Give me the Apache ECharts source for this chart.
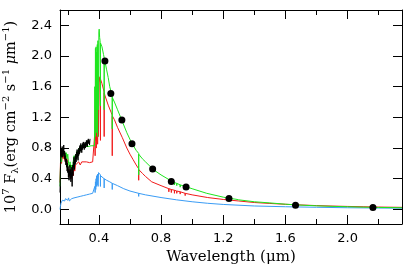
<!DOCTYPE html>
<html>
<head>
<meta charset="utf-8">
<script src="https://cdn.jsdelivr.net/npm/echarts@6/dist/echarts.min.js"></script>
<style>
  html, body { margin: 0; padding: 0; background: #fff; }
  #chart { width: 415px; height: 269px; }
</style>
</head>
<body>
<div id="chart"></div>
<script>
// wavelength (um), 10^7 F_lambda
let greenModel = [
    [0.150,0.30],[0.153,0.55],[0.156,0.70],[0.160,0.62],[0.163,0.78],[0.167,0.72],[0.170,0.80],[0.175,0.70],
    [0.180,0.76],[0.185,0.68],[0.190,0.74],[0.195,0.66],[0.200,0.72],[0.205,0.60],[0.210,0.55],[0.215,0.62],
    [0.220,0.50],[0.225,0.58],[0.230,0.48],[0.235,0.62],[0.240,0.70],[0.245,0.60],[0.250,0.72],[0.255,0.66],
    [0.260,0.76],[0.265,0.70],[0.270,0.80],[0.275,0.74],[0.280,0.82],[0.285,0.76],[0.290,0.84],[0.295,0.80],
    [0.300,0.82],[0.310,0.82],[0.320,0.83],[0.330,0.82],[0.340,0.82],[0.350,0.83],[0.360,0.82],[0.372,0.83],
    [0.374,1.60],[0.376,0.95],[0.378,2.10],[0.380,1.30],[0.382,2.12],[0.384,1.00],[0.386,2.05],[0.388,1.40],
    [0.390,2.15],[0.392,0.95],[0.394,2.20],[0.397,1.30],[0.400,2.30],[0.402,2.35],[0.405,2.24],[0.408,2.20],
    [0.410,2.18],[0.4102,1.35],[0.4104,2.17],[0.420,2.12],[0.430,2.02],[0.434,1.98],[0.4342,1.30],[0.4344,1.97],
    [0.440,1.92],[0.450,1.82],[0.460,1.72],[0.470,1.60],[0.480,1.52],[0.486,1.47],[0.4862,1.05],[0.4864,1.46],
    [0.500,1.40],[0.520,1.30],[0.550,1.15],[0.580,1.00],[0.610,0.87],[0.640,0.77],[0.656,0.73],[0.6562,0.45],
    [0.6564,0.72],[0.680,0.66],[0.700,0.62],[0.750,0.52],[0.800,0.45],[0.850,0.39],[0.8502,0.36],[0.8504,0.39],
    [0.866,0.365],[0.8662,0.33],[0.8664,0.36],[0.886,0.35],[0.8862,0.32],[0.8864,0.35],[0.901,0.34],[0.9012,0.31],
    [0.9014,0.34],[0.923,0.32],[0.9232,0.29],[0.9234,0.32],[0.955,0.30],[0.9552,0.27],[0.9554,0.30],[1.000,0.27],
    [1.005,0.265],[1.0052,0.245],[1.0054,0.265],[1.094,0.21],[1.0942,0.195],[1.0944,0.21],[1.200,0.16],[1.240,0.145],
    [1.282,0.133],[1.2822,0.12],[1.2824,0.133],[1.300,0.125],[1.400,0.100],[1.500,0.085],[1.600,0.068],[1.700,0.056],
    [1.800,0.047],[1.900,0.040],[2.000,0.035],[2.100,0.030],[2.200,0.026],[2.350,0.022]
];
let redModel = [
    [0.150,0.35],[0.153,0.60],[0.156,0.68],[0.160,0.60],[0.165,0.72],[0.170,0.66],[0.175,0.72],[0.180,0.64],
    [0.185,0.70],[0.190,0.60],[0.195,0.66],[0.200,0.55],[0.205,0.48],[0.210,0.52],[0.215,0.42],[0.220,0.48],
    [0.225,0.40],[0.230,0.50],[0.235,0.44],[0.240,0.55],[0.245,0.50],[0.250,0.58],[0.260,0.56],[0.270,0.62],
    [0.280,0.58],[0.290,0.62],[0.300,0.62],[0.320,0.62],[0.340,0.61],[0.360,0.62],[0.372,0.62],
    [0.374,1.00],[0.376,0.70],[0.378,1.35],[0.380,0.90],[0.382,1.45],[0.384,0.80],[0.386,1.50],[0.388,0.95],
    [0.390,1.55],[0.392,0.85],[0.394,1.60],[0.397,0.95],[0.400,1.65],[0.404,1.70],[0.407,1.73],[0.410,1.72],
    [0.4102,0.90],[0.4104,1.70],[0.420,1.64],[0.434,1.53],[0.4342,0.95],[0.4344,1.52],[0.440,1.48],[0.460,1.36],
    [0.480,1.26],[0.486,1.23],[0.4862,0.70],[0.4864,1.22],[0.500,1.17],[0.520,1.07],[0.550,0.94],[0.580,0.80],
    [0.600,0.72],[0.620,0.65],[0.640,0.58],[0.656,0.53],[0.6562,0.38],[0.6564,0.52],[0.680,0.47],[0.700,0.43],
    [0.740,0.36],[0.800,0.31],[0.850,0.27],[0.8502,0.23],[0.8504,0.27],[0.866,0.26],[0.8662,0.22],[0.8664,0.26],
    [0.886,0.25],[0.8862,0.21],[0.8864,0.25],[0.901,0.24],[0.9012,0.21],[0.9014,0.24],[0.923,0.23],[0.9232,0.20],
    [0.9234,0.23],[0.955,0.21],[0.9552,0.18],[0.9554,0.21],[1.000,0.19],[1.100,0.155],[1.200,0.13],[1.300,0.11],
    [1.400,0.090],[1.500,0.078],[1.600,0.067],[1.700,0.058],[1.800,0.050],[1.900,0.044],[2.000,0.039],[2.100,0.035],
    [2.200,0.031],[2.350,0.027]
];
let blueModel = [
    [0.150,0.00],[0.153,0.04],[0.156,0.08],[0.160,0.10],[0.165,0.12],[0.170,0.10],[0.175,0.13],[0.180,0.11],
    [0.185,0.14],[0.190,0.12],[0.195,0.14],[0.200,0.12],[0.205,0.15],[0.210,0.11],[0.215,0.13],[0.220,0.10],
    [0.225,0.14],[0.230,0.12],[0.240,0.15],[0.250,0.14],[0.260,0.16],[0.270,0.15],[0.280,0.17],[0.290,0.16],
    [0.300,0.18],[0.310,0.18],[0.320,0.19],[0.330,0.19],[0.340,0.20],[0.350,0.20],[0.360,0.21],[0.372,0.21],
    [0.374,0.30],[0.376,0.22],[0.378,0.36],[0.380,0.26],[0.382,0.40],[0.384,0.30],[0.386,0.44],[0.389,0.32],
    [0.392,0.46],[0.395,0.30],[0.398,0.48],[0.402,0.47],[0.410,0.45],[0.4102,0.30],[0.4104,0.44],[0.420,0.42],
    [0.434,0.40],[0.4342,0.28],[0.4344,0.40],[0.450,0.38],[0.470,0.36],[0.486,0.34],[0.4862,0.26],[0.4864,0.34],
    [0.520,0.31],[0.560,0.27],[0.600,0.24],[0.656,0.21],[0.6562,0.17],[0.6564,0.21],[0.700,0.19],[0.800,0.155],
    [0.900,0.125],[1.000,0.10],[1.100,0.08],[1.200,0.065],[1.400,0.045],[1.600,0.035],[1.800,0.028],[2.000,0.022],
    [2.200,0.018],[2.350,0.016]
];
let observed = [
    [0.150,0.22],[0.152,0.40],[0.154,0.62],[0.156,0.75],[0.158,0.68],[0.160,0.80],[0.162,0.70],[0.164,0.82],
    [0.166,0.74],[0.168,0.68],[0.170,0.78],[0.172,0.72],[0.174,0.84],[0.176,0.70],[0.178,0.76],[0.180,0.66],
    [0.182,0.74],[0.184,0.62],[0.186,0.70],[0.188,0.58],[0.190,0.66],[0.192,0.55],[0.194,0.64],[0.196,0.50],
    [0.198,0.60],[0.200,0.48],[0.202,0.56],[0.204,0.42],[0.206,0.52],[0.208,0.38],[0.210,0.50],[0.212,0.44],
    [0.214,0.58],[0.216,0.40],[0.218,0.52],[0.220,0.36],[0.222,0.48],[0.224,0.42],[0.226,0.55],[0.228,0.30],
    [0.230,0.50],[0.232,0.58],[0.234,0.44],[0.236,0.62],[0.238,0.55],[0.240,0.68],[0.242,0.52],[0.244,0.64],
    [0.246,0.58],[0.248,0.70],[0.250,0.60],[0.252,0.72],[0.254,0.62],[0.256,0.75],[0.258,0.66],[0.260,0.78],
    [0.262,0.68],[0.264,0.74],[0.266,0.64],[0.268,0.78],[0.270,0.70],[0.272,0.80],[0.274,0.72],[0.276,0.82],
    [0.278,0.74],[0.280,0.84],[0.282,0.76],[0.284,0.86],[0.286,0.78],[0.288,0.82],[0.290,0.74],[0.292,0.84],
    [0.294,0.78],[0.296,0.86],[0.298,0.80],[0.300,0.88],[0.302,0.80],[0.304,0.84],[0.306,0.78],[0.308,0.86],
    [0.310,0.82],[0.312,0.88],[0.314,0.80],[0.316,0.86],[0.318,0.82],[0.320,0.90],[0.322,0.84],[0.324,0.88],
    [0.326,0.82],[0.328,0.90],[0.330,0.86],[0.332,0.92],[0.334,0.86],[0.337,0.90],[0.340,0.84],[0.343,0.92]
];
let photometry = [
    [0.439,1.934],[0.477,1.513],[0.548,1.165],[0.613,0.856],[0.746,0.526],
    [0.866,0.365],[0.961,0.291],[1.237,0.143],[1.665,0.056],[2.163,0.026]
];
let xMajor = [0.4, 0.8, 1.2, 1.6, 2.0];
let xMinor = [0.2, 0.6, 1.0, 1.4, 1.8, 2.2];
let yMajor = [0.0, 0.4, 0.8, 1.2, 1.6, 2.0, 2.4];

let xMin = 0.15, xMax = 2.35, yMin = -0.19, yMax = 2.6;
let ink = '#000';
let tickFont = { color: ink, fontSize: 13, fontFamily: 'DejaVu Sans' };

function xAxisDef(pos, ticks, len, showLine, showLabel){
    return {
        type: 'value', position: pos, min: xMin, max: xMax,
        splitLine: { show: false },
        axisLine: { show: showLine, onZero: false, lineStyle: { color: ink, width: 1 } },
        axisTick: { show: true, inside: true, length: len, customValues: ticks, lineStyle: { color: ink, width: 1 } },
        axisLabel: { show: showLabel, customValues: ticks, margin: 8,
            formatter: (v) => v.toFixed(1), ...tickFont }
    };
}
function yAxisDef(pos, showLabel){
    return {
        type: 'value', position: pos, min: yMin, max: yMax,
        splitLine: { show: false },
        axisLine: { show: true, onZero: false, lineStyle: { color: ink, width: 1 } },
        axisTick: { show: true, inside: true, length: 9, customValues: yMajor, lineStyle: { color: ink, width: 1 } },
        axisLabel: { show: showLabel, customValues: yMajor, margin: 8,
            formatter: (v) => v.toFixed(1), ...tickFont }
    };
}

let bottom = xAxisDef('bottom', xMajor, 9, true, true);
bottom.name = 'Wavelength (\u03bcm)';
bottom.nameLocation = 'middle';
bottom.nameGap = 25;
bottom.nameTextStyle = { color: ink, fontSize: 15, fontFamily: 'DejaVu Serif' };

let left = yAxisDef('left', true);
left.name = '{n|10}{sup|7}{n| F}{sub|\u03bb}{n|(erg cm}{sup|\u22122}{n| s}{sup|\u22121}{n| }{it|\u03bc}{n|m}{sup|\u22121}{n|)}';
left.nameLocation = 'middle';
left.nameGap = 37;
left.nameRotate = 90;
left.nameTextStyle = {
    color: ink, fontFamily: 'DejaVu Serif',
    rich: {
        n: { fontSize: 14.5, lineHeight: 19, fontFamily: 'DejaVu Serif', color: ink },
        it: { fontSize: 14.5, lineHeight: 19, fontStyle: 'italic', fontFamily: 'DejaVu Serif', color: ink },
        sup: { fontSize: 10, lineHeight: 10, verticalAlign: 'top', fontFamily: 'DejaVu Serif', color: ink },
        sub: { fontSize: 10, lineHeight: 10, verticalAlign: 'bottom', fontFamily: 'DejaVu Serif', color: ink }
    }
};

function spectrum(data, color){
    return {
        type: 'line', data: data, showSymbol: false, xAxisIndex: 0, yAxisIndex: 0,
        lineStyle: { color: color, width: 1 }, itemStyle: { color: color },
        clip: true, z: 2
    };
}

let chart = echarts.init(document.getElementById('chart'));
chart.setOption({
    animation: false,
    backgroundColor: '#fff',
    grid: { left: 60, right: 13, top: 10, bottom: 45, containLabel: false, outerBoundsMode: 'none' },
    xAxis: [
        bottom,
        xAxisDef('top', xMajor, 9, true, false),
        xAxisDef('bottom', xMinor, 5, false, false),
        xAxisDef('top', xMinor, 5, false, false)
    ],
    yAxis: [left, yAxisDef('right', false)],
    series: [
        spectrum(blueModel, '#3a9cf5'),
        spectrum(redModel, '#f21a1a'),
        spectrum(greenModel, '#1ee61e'),
        spectrum(observed, '#000'),
        {
            type: 'scatter', data: photometry, symbolSize: 7,
            itemStyle: { color: '#000', opacity: 1 }, z: 5
        }
    ]
});
</script>
</body>
</html>
